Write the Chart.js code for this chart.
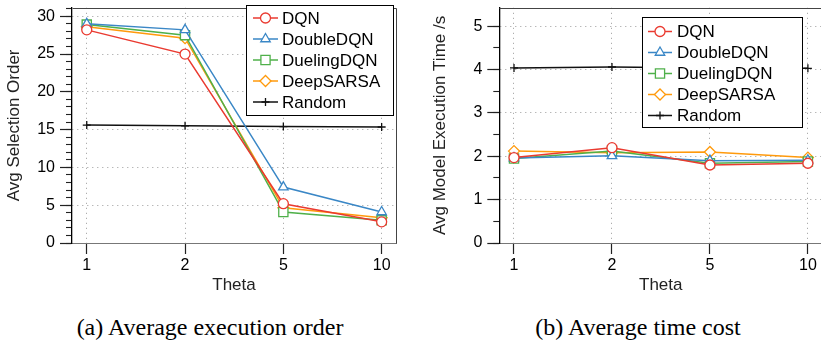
<!DOCTYPE html>
<html>
<head>
<meta charset="utf-8">
<script src="https://cdn.jsdelivr.net/npm/chart.js@4.4.1/dist/chart.umd.min.js"></script>
<style>
  html, body { margin: 0; padding: 0; background: #fff; }
  body { width: 821px; height: 351px; position: relative; overflow: hidden; }
  canvas { position: absolute; top: 0; }
  #orderChart { left: 0; }
  #timeChart { left: 410px; }
  .cap { position: absolute; top: 315px; width: 400px; text-align: center;
         font: 24px "Liberation Serif", "DejaVu Serif", serif; line-height: 1; color: #000; }
</style>
</head>
<body>
<canvas id="orderChart" width="410" height="300"></canvas>
<canvas id="timeChart" width="420" height="300"></canvas>
<div class="cap" style="left:10px">(a) Average execution order</div>
<div class="cap" style="left:438px">(b) Average time cost</div>
<script>
// x categories
const thetas = ['1', '2', '5', '10'];
const methods = ['DQN', 'DoubleDQN', 'DuelingDQN', 'DeepSARSA', 'Random'];

// (a) avg selection order
const dqnOrder     = [28.2, 25.0, 5.2, 2.8];
const doubleOrder  = [29.0, 28.2, 7.4, 4.1];
const duelingOrder = [28.9, 27.5, 4.1, 3.0];
const sarsaOrder   = [28.6, 27.1, 4.65, 3.35];
const randomOrder  = [15.6, 15.5, 15.4, 15.35];

// (b) avg model execution time (s)
const dqnTime     = [1.97, 2.20, 1.80, 1.84];
const doubleTime  = [1.96, 2.01, 1.90, 1.91];
const duelingTime = [1.95, 2.12, 1.84, 1.88];
const sarsaTime   = [2.12, 2.08, 2.10, 1.97];
const randomTime  = [4.04, 4.06, 4.04, 4.03];

// tick labels
const orderTicks = [0, 5, 10, 15, 20, 25, 30];
const orderMinor = Array.from({length: 32}, (_, i) => i);
const timeTicks = [0, 1, 2, 3, 4, 5];
const timeMinor = [0, 0.5, 1, 1.5, 2, 2.5, 3, 3.5, 4, 4.5, 5];

const colors = ['#ea3a30', '#3a87c6', '#4fb04a', '#ff9a0c', '#111111'];
const markers = ['circle', 'triangle', 'rect', 'rectRot', 'cross'];
const markerSize = [5, 5.5, 6.5, 5.5, 4];

Chart.defaults.font.family = '"Liberation Sans", Arial, sans-serif';
Chart.defaults.color = '#000';

function makeSets(series) {
  return series.map((vals, i) => ({
    label: methods[i],
    data: vals.map((v, j) => ({x: j, y: v})),
    borderColor: colors[i],
    backgroundColor: '#fff',
    borderWidth: 1.5,
    pointStyle: markers[i],
    pointRadius: markerSize[i],
    pointBorderWidth: 1.3,
    pointBackgroundColor: '#fff',
    pointBorderColor: colors[i],
    tension: 0
  }));
}

function makeScales(yMax, majors, minors, yTitle, yWidth, titlePad) {
  return {
    x: {
      type: 'linear',
      min: -0.15,
      max: thetas.length - 1 + 0.146,
      afterBuildTicks: s => { s.ticks = thetas.map((t, i) => ({value: i})); },
      afterFit: s => { s.height = 57; s.paddingLeft = 0; s.paddingRight = 0; },
      ticks: { callback: v => thetas[v], font: {size: 16}, padding: 2, maxRotation: 0, autoSkip: false },
      grid: { color: '#9a9a9a', lineWidth: 1, tickLength: 11, tickColor: '#222', tickWidth: 1.2 },
      border: { color: '#777', width: 1, dash: [1, 4] },
      title: { display: true, text: 'Theta', font: {size: 17}, color: '#222', padding: {top: 0, bottom: 4} }
    },
    y: {
      min: 0,
      max: yMax,
      weight: 1,
      afterBuildTicks: s => { s.ticks = majors.map(v => ({value: v})); },
      afterFit: s => { s.width = yWidth; s.paddingTop = 0; s.paddingBottom = 0; },
      ticks: { font: {size: 16}, padding: 5, autoSkip: false },
      grid: { color: '#9a9a9a', lineWidth: 1, tickLength: 12, tickColor: '#222', tickWidth: 1.2 },
      border: { color: '#000', width: 1.3, dash: [1, 4] },
      title: { display: true, text: yTitle, font: {size: 17}, color: '#222', padding: {top: titlePad, bottom: 0} }
    },
    yMinor: {
      position: 'left',
      min: 0,
      max: yMax,
      weight: 0,
      afterBuildTicks: s => { s.ticks = minors.map(v => ({value: v})); },
      afterFit: s => { s.width = 0; s.paddingTop = 0; s.paddingBottom = 0; },
      ticks: { display: false },
      grid: { drawOnChartArea: false, tickLength: 6, tickColor: '#222', tickWidth: 1.1 },
      border: { display: false }
    }
  };
}

// top + right sides of the plot box
const framePlugin = {
  id: 'frame',
  beforeDatasetsDraw(chart) {
    const {ctx, chartArea: a} = chart;
    const l = Math.round(a.left) + 0.5, t = Math.round(a.top) + 0.5;
    const r = Math.round(a.right) + 0.5, b = Math.round(a.bottom) + 0.5;
    ctx.save();
    ctx.strokeStyle = '#444';
    ctx.lineWidth = 1;
    ctx.beginPath();
    ctx.moveTo(l, t); ctx.lineTo(r, t); ctx.lineTo(r, b);
    ctx.stroke();
    ctx.restore();
  }
};

function boxLegend(box) {
  return {
    id: 'boxLegend',
    afterDatasetsDraw(chart) {
      const ctx = chart.ctx;
      ctx.save();
      ctx.fillStyle = '#fff';
      ctx.fillRect(box.x, box.y, box.w, box.h);
      ctx.strokeStyle = '#000';
      ctx.lineWidth = 1;
      ctx.strokeRect(box.x + 0.5, box.y + 0.5, box.w, box.h);
      ctx.font = '17px "Liberation Sans", Arial, sans-serif';
      ctx.textBaseline = 'middle';
      chart.data.datasets.forEach((ds, i) => {
        const y = box.row0 + i * box.rowH;
        ctx.strokeStyle = ds.borderColor;
        ctx.lineWidth = ds.borderWidth;
        ctx.beginPath();
        ctx.moveTo(box.line0, y);
        ctx.lineTo(box.line1, y);
        ctx.stroke();
        if (Chart.helpers && Chart.helpers.drawPoint) {
          ctx.fillStyle = '#fff';
          ctx.lineWidth = ds.pointBorderWidth;
          Chart.helpers.drawPoint(ctx, {pointStyle: ds.pointStyle, radius: ds.pointRadius,
            borderWidth: ds.pointBorderWidth, rotation: 0}, (box.line0 + box.line1) / 2, y);
        }
        ctx.fillStyle = '#000';
        ctx.fillText(ds.label, box.textX, y + 1);
      });
      ctx.restore();
    }
  };
}

new Chart(document.getElementById('orderChart'), {
  type: 'line',
  data: { datasets: makeSets([dqnOrder, doubleOrder, duelingOrder, sarsaOrder, randomOrder]) },
  options: {
    responsive: false,
    animation: false,
    layout: { padding: {left: 0, top: 4, right: 14, bottom: 0} },
    scales: makeScales(31.12, orderTicks, orderMinor, 'Avg Selection Order', 72, 4),
    plugins: { legend: {display: false}, tooltip: {enabled: false} }
  },
  plugins: [framePlugin, boxLegend({x: 246, y: 5, w: 147, h: 110, row0: 18, rowH: 21, line0: 253, line1: 278, textX: 282})]
});

new Chart(document.getElementById('timeChart'), {
  type: 'line',
  data: { datasets: makeSets([dqnTime, doubleTime, duelingTime, sarsaTime, randomTime]) },
  options: {
    responsive: false,
    animation: false,
    layout: { padding: {left: 0, top: 1, right: 6.5, bottom: 0} },
    scales: makeScales(5.426, timeTicks, timeMinor, 'Avg Model Execution Time /s', 89.3, 20),
    plugins: { legend: {display: false}, tooltip: {enabled: false} }
  },
  plugins: [framePlugin, boxLegend({x: 232, y: 17, w: 160, h: 110, row0: 31.5, rowH: 21, line0: 238, line1: 262, textX: 267})]
});
</script>
</body>
</html>
